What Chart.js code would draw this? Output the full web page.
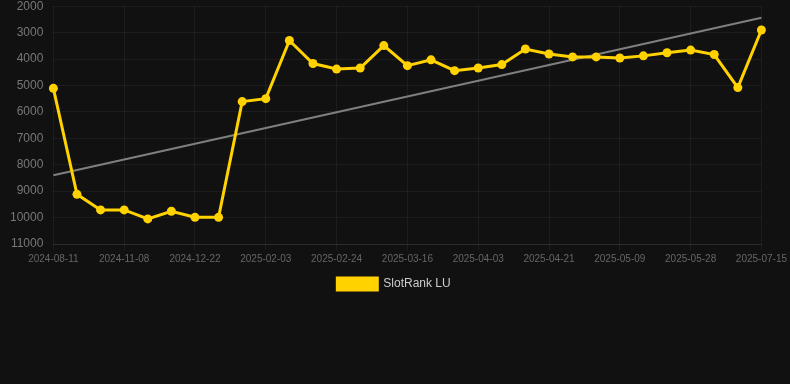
<!DOCTYPE html>
<html>
<head>
<meta charset="utf-8">
<script src="https://cdn.jsdelivr.net/npm/chart.js@4/dist/chart.umd.min.js"></script>
<style>
html,body{margin:0;padding:0;background:#111111;overflow:hidden;}
#wrap{width:790px;height:311px;position:relative;top:-11px;}
</style>
</head>
<body>
<div id="wrap"><canvas id="c"></canvas></div>
<script>
const dates = [
  "2024-08-11","2024-09-10","2024-10-09","2024-11-08","2024-11-23","2024-12-07","2024-12-22",
  "2025-01-05","2025-01-19","2025-02-03","2025-02-10","2025-02-17","2025-02-24","2025-03-03",
  "2025-03-10","2025-03-16","2025-03-22","2025-03-28","2025-04-03","2025-04-09","2025-04-15",
  "2025-04-21","2025-04-27","2025-05-03","2025-05-09","2025-05-15","2025-05-21","2025-05-28",
  "2025-06-13","2025-06-29","2025-07-15"
];
const rankLU = [
  5110, 9120, 9710, 9710, 10050, 9760, 9990, 9990, 5610, 5500, 3300,
  4170, 4380, 4340, 3490, 4250, 4030, 4440, 4340, 4210, 3620,
  3810, 3920, 3920, 3960, 3880, 3760, 3660, 3830, 5080, 2900
];
const trendEnds = [8400, 2440];
const yTicks = [2000, 3000, 4000, 5000, 6000, 7000, 8000, 9000, 10000, 11000];

const trend = dates.map((d, i) => i === 0 ? trendEnds[0] : (i === dates.length - 1 ? trendEnds[1] : null));

new Chart(document.getElementById('c'), {
  type: 'line',
  data: {
    labels: dates,
    datasets: [
      {
        label: 'SlotRank LU',
        data: rankLU,
        borderColor: '#FFD200',
        backgroundColor: '#FFD200',
        borderWidth: 3,
        pointRadius: 4.5,
        pointBorderWidth: 0,
        pointHoverRadius: 4.5,
        pointBackgroundColor: '#FFD200',
        pointBorderColor: '#FFD200',
        tension: 0
      },
      {
        label: 'trend',
        data: trend,
        spanGaps: true,
        borderColor: 'rgba(140,140,140,0.9)',
        borderWidth: 2,
        pointRadius: 0,
        fill: false
      }
    ]
  },
  options: {
    responsive: true,
    maintainAspectRatio: false,
    animation: false,
    layout: { padding: { left: 0, right: 2, top: 0, bottom: 0 } },
    scales: {
      x: {
        offset: false,
        grid: { color: 'rgba(255,255,255,0.05)', tickLength: 6 },
        border: { color: 'rgba(255,255,255,0.08)' },
        ticks: {
          autoSkip: false,
          maxRotation: 0,
          color: '#666666',
          font: { family: 'Liberation Sans, Arial, sans-serif', size: 10 },
          callback: function(v, i) { return i % 3 === 0 ? dates[i] : null; }
        }
      },
      y: {
        reverse: true,
        min: 2000,
        max: 11000,
        afterBuildTicks: (s) => { s.ticks = yTicks.map(v => ({ value: v })); },
        grid: { color: 'rgba(255,255,255,0.05)', drawTicks: false },
        border: { display: false },
        ticks: {
          color: '#777777',
          padding: 10,
          font: { family: 'Liberation Sans, Arial, sans-serif', size: 12 },
          callback: (v) => String(v)
        }
      }
    },
    plugins: {
      legend: {
        position: 'bottom',
        labels: {
          filter: (item) => item.text !== 'trend',
          color: '#cccccc',
          boxWidth: 40,
          boxHeight: 12,
          font: { family: 'Liberation Sans, Arial, sans-serif', size: 12 }
        }
      },
      tooltip: { enabled: false }
    }
  }
});
</script>
</body>
</html>
